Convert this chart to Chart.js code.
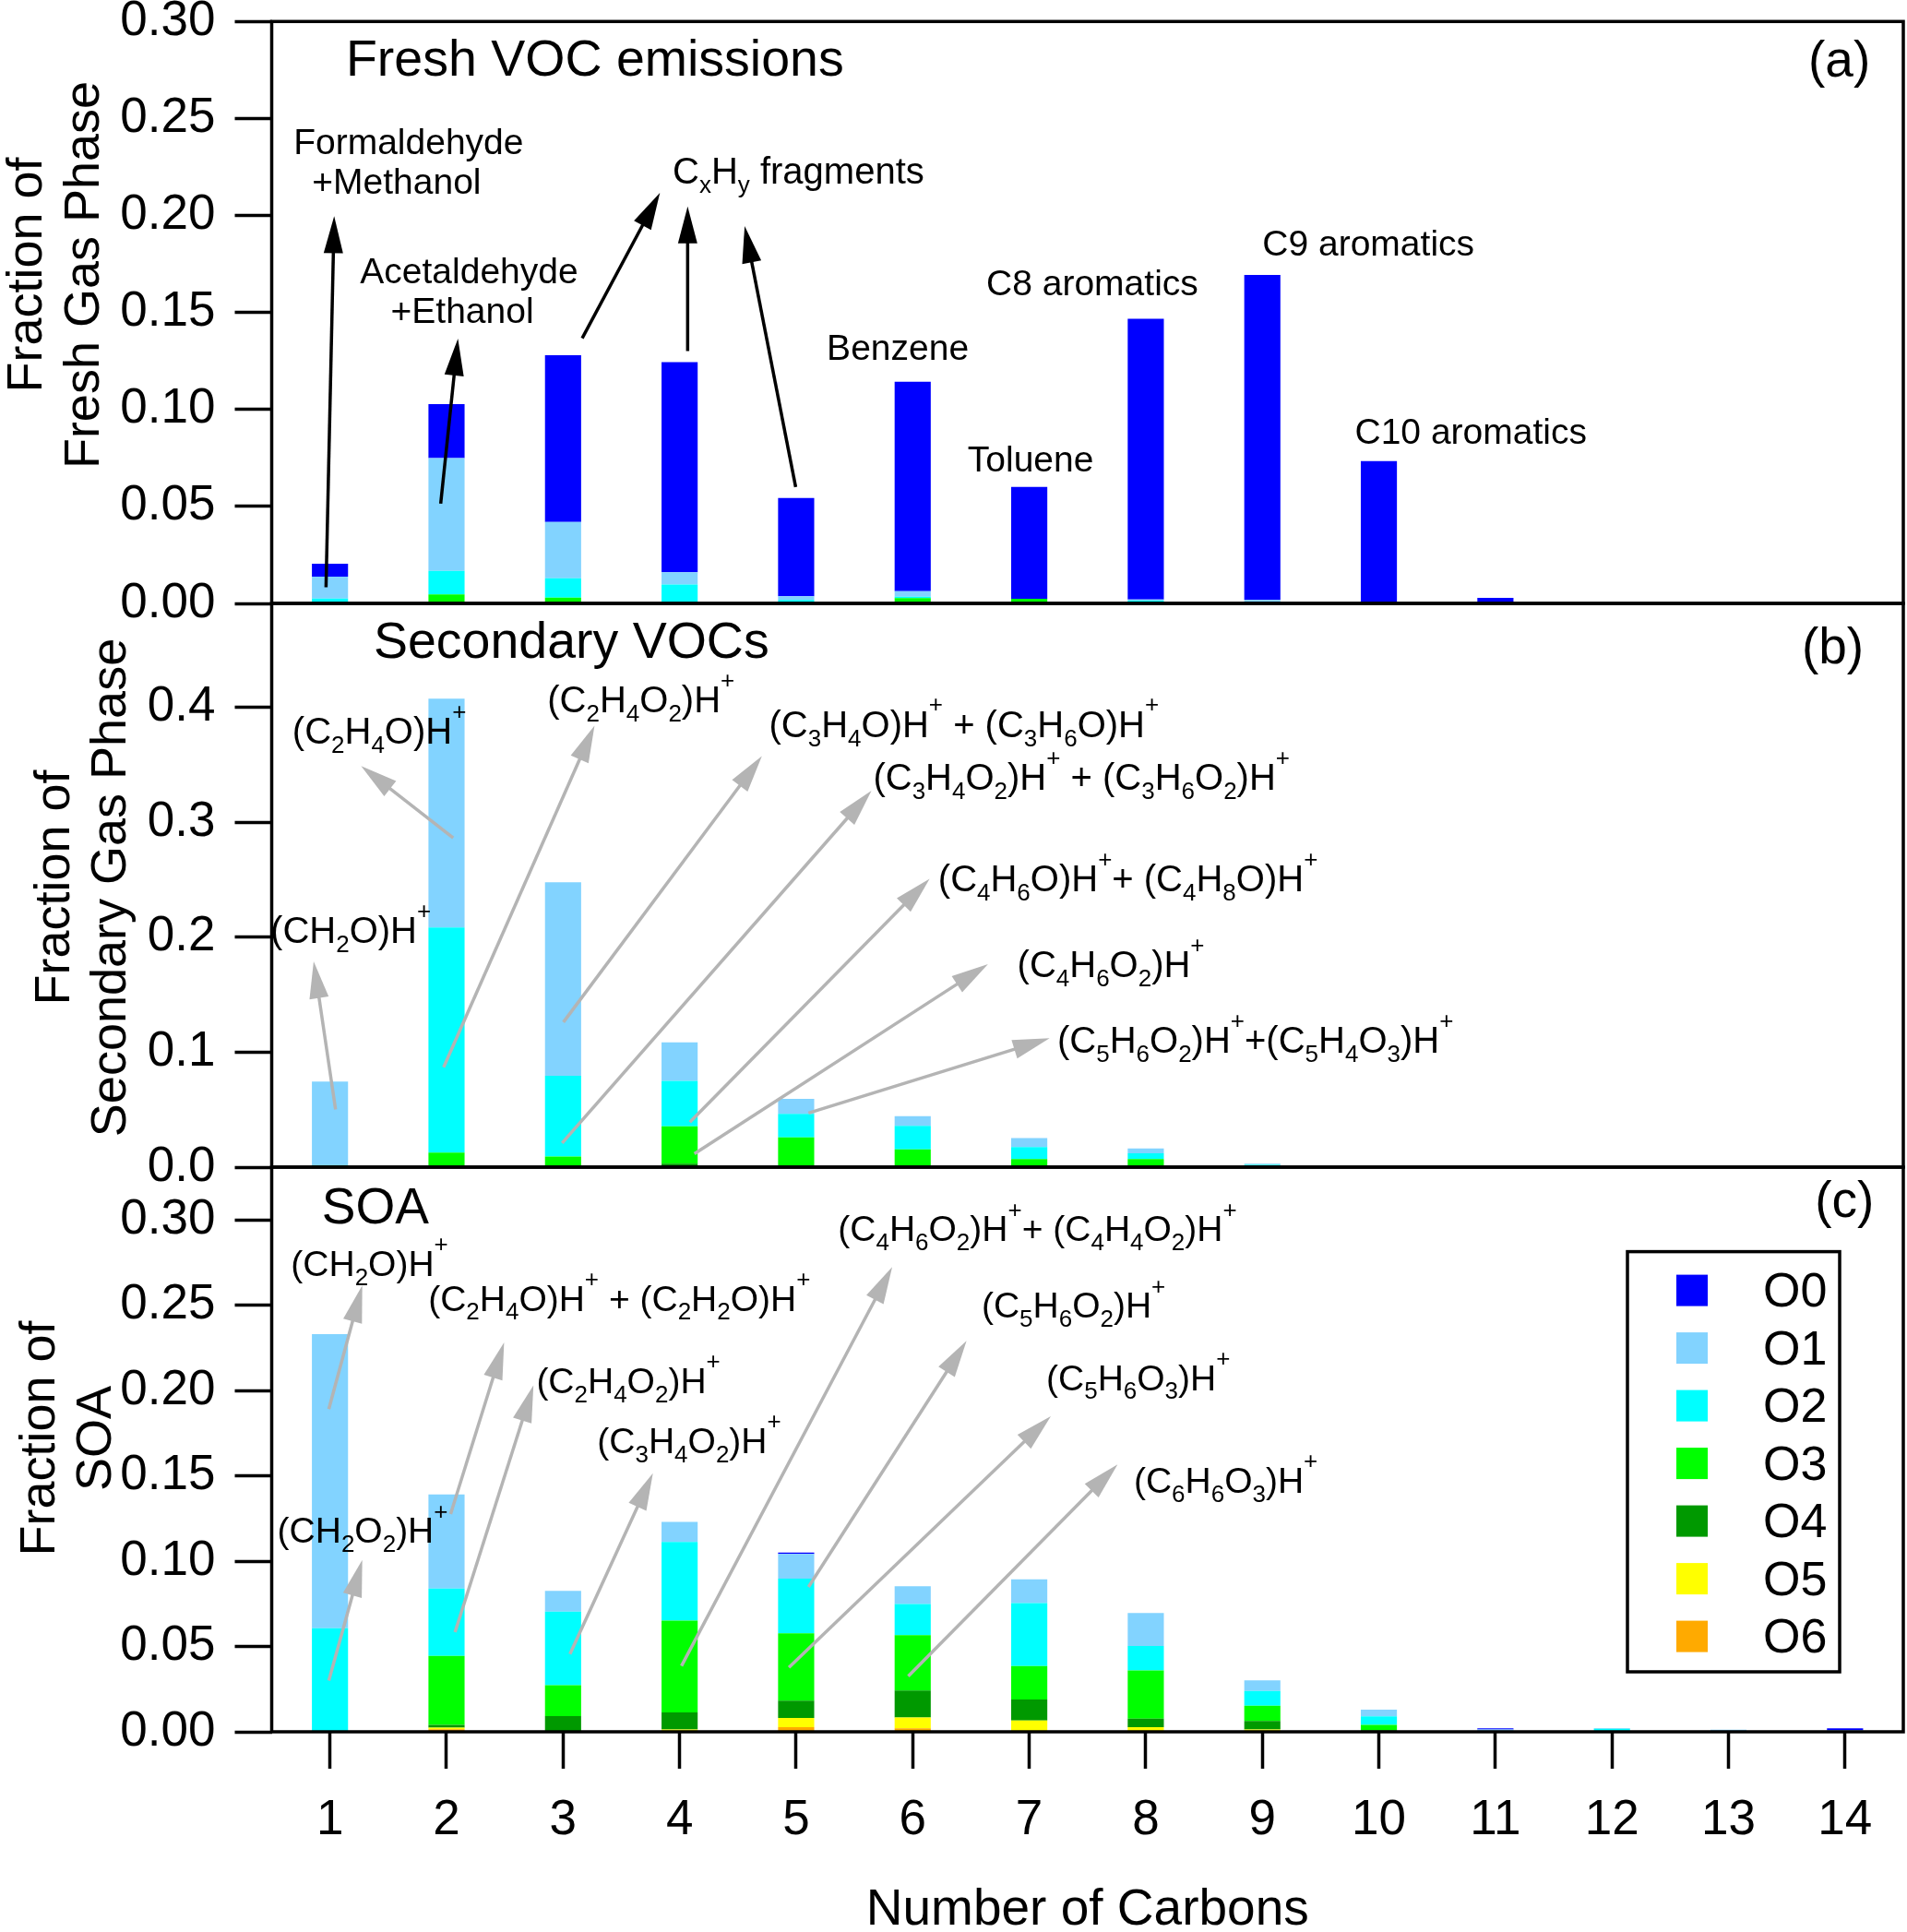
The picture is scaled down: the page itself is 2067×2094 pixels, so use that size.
<!DOCTYPE html>
<html>
<head>
<meta charset="utf-8">
<title>Fraction by number of carbons</title>
<script src="https://cdn.jsdelivr.net/npm/chart.js@4.4.1/dist/chart.umd.min.js"></script>
<style>
  body { margin: 0; background: #fff; }
  #page { position: relative; width: 2067px; height: 2094px; overflow: hidden; background: #fff; }
  #page canvas { position: absolute; left: 0; }
</style>
</head>
<body>
<div id="page">
  <canvas id="fresh_chart" width="2067" height="720" style="top:0px"></canvas>
  <canvas id="secondary_chart" width="2067" height="700" style="top:620px"></canvas>
  <canvas id="soa_chart" width="2067" height="864" style="top:1230px"></canvas>
</div>
<script>
const FONT = '"Liberation Sans", Arial, sans-serif'

const carbons = ["1", "2", "3", "4", "5", "6", "7", "8", "9", "10", "11", "12", "13", "14"]
const seriesNames = ["O0", "O1", "O2", "O3", "O4", "O5", "O6"]
const seriesColors = ["#0000ff", "#82d3ff", "#00ffff", "#00ff00", "#009900", "#ffff00", "#ffaa00"]

// (a) fresh VOC emissions
const freshO0 = [0.0067, 0.0278, 0.0860, 0.1084, 0.0507, 0.1080, 0.0576, 0.1448, 0.1675, 0.0734, 0.0028, 0, 0, 0]
const freshO1 = [0.0113, 0.0581, 0.0290, 0.0062, 0.0019, 0.0028, 0, 0.0006, 0.0010, 0, 0, 0, 0, 0]
const freshO2 = [0.0025, 0.0122, 0.0100, 0.0098, 0.0018, 0.0008, 0, 0.0014, 0.0008, 0, 0, 0, 0, 0]
const freshO3 = [0, 0.0046, 0.0030, 0, 0, 0.0027, 0.0024, 0, 0, 0, 0, 0, 0, 0]
const freshO4 = [0, 0, 0, 0, 0, 0, 0, 0, 0, 0, 0, 0, 0, 0]
const freshO5 = [0, 0, 0, 0, 0, 0, 0, 0, 0, 0, 0, 0, 0, 0]
const freshO6 = [0, 0, 0, 0, 0, 0, 0, 0, 0, 0, 0, 0, 0, 0]
const freshTicks = [0, 0.05, 0.10, 0.15, 0.20, 0.25, 0.30]

// (b) secondary VOCs
const secO0 = [0, 0, 0, 0, 0, 0, 0, 0, 0, 0, 0, 0, 0, 0]
const secO1 = [0.0730, 0.1991, 0.1684, 0.0336, 0.0132, 0.0084, 0.0078, 0.0043, 0.0010, 0, 0, 0, 0, 0]
const secO2 = [0, 0.1959, 0.0701, 0.0394, 0.0205, 0.0205, 0.0104, 0.0050, 0.0020, 0, 0, 0, 0, 0]
const secO3 = [0.0015, 0.0126, 0.0093, 0.0326, 0.0248, 0.0144, 0.0070, 0.0070, 0, 0, 0, 0, 0, 0]
const secO4 = [0, 0, 0, 0.0030, 0.0010, 0.0010, 0, 0, 0, 0, 0, 0, 0, 0]
const secO5 = [0, 0, 0, 0, 0, 0, 0, 0, 0, 0, 0, 0, 0, 0]
const secO6 = [0, 0, 0, 0, 0, 0, 0, 0, 0, 0, 0, 0, 0, 0]
const secTicks = [0, 0.1, 0.2, 0.3, 0.4]

// (c) SOA
const soaO0 = [0, 0, 0, 0, 0.0008, 0, 0, 0, 0, 0, 0.0006, 0, 0, 0.0012]
const soaO1 = [0.1724, 0.0552, 0.0122, 0.0117, 0.0145, 0.0104, 0.0140, 0.0194, 0.0061, 0.0040, 0.0014, 0.0005, 0.0012, 0.0008]
const soaO2 = [0.0607, 0.0395, 0.0431, 0.0461, 0.0320, 0.0183, 0.0368, 0.0144, 0.0087, 0.0050, 0, 0.0012, 0, 0]
const soaO3 = [0, 0.0404, 0.0181, 0.0539, 0.0395, 0.0324, 0.0197, 0.0282, 0.0090, 0.0030, 0, 0.0005, 0, 0]
const soaO4 = [0, 0.0016, 0.0092, 0.0100, 0.0102, 0.0158, 0.0123, 0.0050, 0.0050, 0.0010, 0, 0, 0, 0]
const soaO5 = [0, 0.0010, 0, 0.0013, 0.0054, 0.0064, 0.0066, 0.0027, 0.0013, 0, 0, 0, 0, 0]
const soaO6 = [0, 0.0015, 0, 0, 0.0027, 0.0020, 0, 0, 0, 0, 0, 0, 0, 0]
const soaTicks = [0, 0.05, 0.10, 0.15, 0.20, 0.25, 0.30]


// text with _x subscripts and ^x superscripts
function drawRich(ctx, str, x, y, size, align) {
    const runs = []
    for (let i = 0; i < str.length; i++) {
        let ch = str[i]
        let kind = "n"
        if ((ch === "_" || ch === "^") && i + 1 < str.length) {
            kind = ch === "_" ? "sub" : "sup"
            ch = str[++i]
        }
        const last = runs[runs.length - 1]
        if (last && last.kind === kind) last.text += ch
        else runs.push({kind: kind, text: ch})
    }
    const fontFor = k => (k === "n" ? size : Math.round(size * 0.66)) + "px " + FONT
    let total = 0
    runs.forEach(r => {
        ctx.font = fontFor(r.kind)
        r.w = ctx.measureText(r.text).width
        total += r.w
    })
    let cx = align === "center" ? x - total / 2 : (align === "right" ? x - total : x)
    ctx.textAlign = "left"
    ctx.textBaseline = "alphabetic"
    ctx.fillStyle = "#000"
    runs.forEach(r => {
        ctx.font = fontFor(r.kind)
        const dy = r.kind === "sub" ? size * 0.25 : (r.kind === "sup" ? -size * 0.66 : 0)
        ctx.fillText(r.text, cx, y + dy)
        cx += r.w
    })
}

function drawArrow(ctx, x1, y1, x2, y2, color, lw, hl, hw) {
    const a = Math.atan2(y2 - y1, x2 - x1)
    const bx = x2 - hl * Math.cos(a)
    const by = y2 - hl * Math.sin(a)
    ctx.strokeStyle = color
    ctx.lineWidth = lw
    ctx.beginPath()
    ctx.moveTo(x1, y1)
    ctx.lineTo(bx + 2 * Math.cos(a), by + 2 * Math.sin(a))
    ctx.stroke()
    ctx.fillStyle = color
    ctx.beginPath()
    ctx.moveTo(x2, y2)
    ctx.lineTo(bx + hw * Math.sin(a), by - hw * Math.cos(a))
    ctx.lineTo(bx - hw * Math.sin(a), by + hw * Math.cos(a))
    ctx.closePath()
    ctx.fill()
}

function decor(panel) {
    return {
        id: "decor_" + panel.name,
        afterDraw(chart) {
            const ctx = chart.ctx
            const area = chart.chartArea
            const xs = chart.scales.x
            const ys = chart.scales.y
            const X = c => xs.getPixelForValue(c - 1)
            const Y = v => ys.getPixelForValue(v)
            ctx.save()

            panel.arrows.forEach(a => {
                drawArrow(ctx, X(a[0]), Y(a[1]), X(a[2]), Y(a[3]), panel.arrowColor, 3.5, 40, 10.5)
            })
            panel.labels.forEach(l => {
                drawRich(ctx, l.t, X(l.c), Y(l.v), l.size || panel.labelSize, l.align || "left")
            })

            // frame round the plot
            ctx.strokeStyle = "#000"
            ctx.lineWidth = 3.5
            ctx.strokeRect(area.left, area.top, area.right - area.left, area.bottom - area.top)

            // y title, two rotated lines
            ctx.fillStyle = "#000"
            ctx.font = "54px " + FONT
            ctx.textAlign = "center"
            ctx.textBaseline = "alphabetic"
            panel.yTitle.forEach((line, i) => {
                ctx.save()
                ctx.translate(panel.yTitleX[i], panel.yTitleY)
                ctx.rotate(-Math.PI / 2)
                ctx.fillText(line, 0, 0)
                ctx.restore()
            })

            if (panel.xTitle) {
                ctx.font = "55px " + FONT
                ctx.textAlign = "center"
                ctx.fillText(panel.xTitle, (area.left + area.right) / 2, area.bottom + 209)
            }

            if (panel.legend) {
                const left = area.right - 299
                const top = area.top + 91.6
                ctx.lineWidth = 3.5
                ctx.strokeStyle = "#000"
                ctx.strokeRect(left, top, 230, 455.4)
                ctx.font = "52px " + FONT
                ctx.textAlign = "left"
                seriesNames.forEach((name, i) => {
                    const sy = top + 25 + i * 62.5
                    ctx.fillStyle = seriesColors[i]
                    ctx.fillRect(left + 53, sy, 34, 34)
                    ctx.fillStyle = "#000"
                    ctx.fillText(name, left + 147, sy + 34.5)
                })
            }
            ctx.restore()
        }
    }
}

function create_panel(canvas, panel) {
    const datasets = []
    // first dataset sits at the bottom of the stack, so O6 goes first
    for (let i = panel.series.length - 1; i >= 0; i--) {
        datasets.push({
            label: seriesNames[i],
            data: panel.series[i],
            backgroundColor: seriesColors[i],
            borderWidth: 0,
            barPercentage: 0.31,
            categoryPercentage: 1.0
        })
    }
    const tickFont = {family: FONT, size: 53}
    const config = {
        type: "bar",
        data: {labels: carbons, datasets: datasets},
        options: {
            responsive: false,
            animation: false,
            devicePixelRatio: 1,
            layout: {padding: {top: panel.padTop, bottom: panel.padBottom, left: 0, right: 4}},
            plugins: {legend: {display: false}, tooltip: {enabled: false}},
            scales: {
                x: {
                    stacked: true,
                    offset: true,
                    display: panel.showX,
                    grid: {offset: false, drawOnChartArea: false, tickLength: 40, tickWidth: 3.5, tickColor: "#000"},
                    border: {display: false},
                    ticks: {font: tickFont, color: "#000", padding: 25, maxRotation: 0, autoSkip: false},
                    afterFit: s => {
                        s.height = panel.xHeight
                        s.paddingLeft = 0
                        s.paddingRight = 0
                    }
                },
                y: {
                    stacked: true,
                    min: 0,
                    max: panel.max,
                    grid: {drawOnChartArea: false, tickLength: 40, tickWidth: 3.5, tickColor: "#000"},
                    border: {display: false},
                    ticks: {
                        font: tickFont, color: "#000", padding: 21, autoSkip: false,
                        callback: v => Number(v).toFixed(panel.decimals)
                    },
                    afterBuildTicks: s => { s.ticks = panel.ticks.map(v => ({value: v})) },
                    afterFit: s => {
                        // keep the plot box where the padding puts it
                        s.width = 294.5
                        s.paddingTop = 0
                        s.paddingBottom = 0
                    }
                }
            }
        },
        plugins: [decor(panel)]
    }
    return new Chart(canvas, config)
}

const GREY = "#b4b4b4"

create_panel(document.querySelector("#fresh_chart"), {
    name: "fresh",
    series: [freshO0, freshO1, freshO2, freshO3, freshO4, freshO5, freshO6],
    ticks: freshTicks, max: 0.30, decimals: 2,
    padTop: 23.3, padBottom: 66, showX: false, xHeight: 0,
    yTitle: ["Fraction of", "Fresh Gas Phase"], yTitleX: [45, 107], yTitleY: 298,
    arrowColor: "#000", labelSize: 39,
    labels: [
        {t: "Fresh VOC emissions", c: 1.137, v: 0.2722, size: 55.5},
        {t: "(a)", c: 14.217, v: 0.2716, size: 55, align: "right"},
        {t: "Formaldehyde", c: 1.674, v: 0.2317, align: "center"},
        {t: "+Methanol", c: 1.572, v: 0.2112, align: "center"},
        {t: "Acetaldehyde", c: 2.194, v: 0.1650, align: "center"},
        {t: "+Ethanol", c: 2.135, v: 0.1444, align: "center"},
        {t: "C_xH_y fragments", c: 3.940, v: 0.2165, size: 40},
        {t: "Benzene", c: 5.872, v: 0.1257, align: "center"},
        {t: "Toluene", c: 7.012, v: 0.0681, align: "center"},
        {t: "C8 aromatics", c: 7.541, v: 0.1588, align: "center"},
        {t: "C9 aromatics", c: 9.910, v: 0.1793, align: "center"},
        {t: "C10 aromatics", c: 10.789, v: 0.0822, align: "center"}
    ],
    arrows: [
        [0.966, 0.0083, 1.036, 0.1996],
        [1.950, 0.0514, 2.098, 0.1365],
        [3.164, 0.1367, 3.831, 0.2117],
        [4.069, 0.1301, 4.069, 0.2047],
        [4.996, 0.0600, 4.558, 0.1946]
    ]
})

create_panel(document.querySelector("#secondary_chart"), {
    name: "secondary",
    series: [secO0, secO1, secO2, secO3, secO4, secO5, secO6],
    ticks: secTicks, max: 0.4905, decimals: 1,
    padTop: 34, padBottom: 55, showX: false, xHeight: 0,
    yTitle: ["Fraction of", "Secondary Gas Phase"], yTitleX: [75, 136], yTitleY: 342,
    arrowColor: GREY, labelSize: 40,
    labels: [
        {t: "Secondary VOCs", c: 1.374, v: 0.4429, size: 55.5},
        {t: "(b)", c: 14.161, v: 0.438, size: 55, align: "right"},
        {t: "(C_2H_4O)H^+", c: 0.677, v: 0.3682},
        {t: "(CH_2O)H^+", c: 0.489, v: 0.1949},
        {t: "(C_2H_4O_2)H^+", c: 2.865, v: 0.3955},
        {t: "(C_3H_4O)H^+ + (C_3H_6O)H^+", c: 4.767, v: 0.3744},
        {t: "(C_3H_4O_2)H^+ + (C_3H_6O_2)H^+", c: 5.661, v: 0.3282},
        {t: "(C_4H_6O)H^++ (C_4H_8O)H^+", c: 6.218, v: 0.2398},
        {t: "(C_4H_6O_2)H^+", c: 6.897, v: 0.1654},
        {t: "(C_5H_6O_2)H^++(C_5H_4O_3)H^+", c: 7.241, v: 0.0995}
    ],
    arrows: [
        [1.048, 0.0502, 0.860, 0.1790],
        [2.057, 0.2865, 1.267, 0.3491],
        [1.975, 0.0869, 3.270, 0.3842],
        [3.003, 0.1261, 4.706, 0.3576],
        [2.992, 0.0209, 5.646, 0.3276],
        [4.088, 0.0392, 6.145, 0.2509],
        [4.127, 0.0117, 6.646, 0.1766],
        [5.106, 0.0471, 7.175, 0.1121]
    ]
})

create_panel(document.querySelector("#soa_chart"), {
    name: "soa",
    series: [soaO0, soaO1, soaO2, soaO3, soaO4, soaO5, soaO6],
    ticks: soaTicks, max: 0.331, decimals: 2,
    padTop: 35, padBottom: 0, showX: true, xHeight: 217,
    yTitle: ["Fraction of", "SOA"], yTitleX: [59, 120], yTitleY: 329,
    xTitle: "Number of Carbons", legend: true,
    arrowColor: GREY, labelSize: 39,
    labels: [
        {t: "SOA", c: 0.930, v: 0.2979, size: 55},
        {t: "(c)", c: 14.249, v: 0.3019, size: 55, align: "right"},
        {t: "(CH_2O)H^+", c: 0.665, v: 0.2671},
        {t: "(CH_2O_2)H^+", c: 0.548, v: 0.1107},
        {t: "(C_2H_4O)H^+ + (C_2H_2O)H^+", c: 1.843, v: 0.2468},
        {t: "(C_2H_4O_2)H^+", c: 2.771, v: 0.1984},
        {t: "(C_3H_4O_2)H^+", c: 3.293, v: 0.1634},
        {t: "(C_4H_6O_2)H^++ (C_4H_4O_2)H^+", c: 5.359, v: 0.2875},
        {t: "(C_5H_6O_2)H^+", c: 6.591, v: 0.2427},
        {t: "(C_5H_6O_3)H^+", c: 7.146, v: 0.2003},
        {t: "(C_6H_6O_3)H^+", c: 7.897, v: 0.1400}
    ],
    arrows: [
        [0.990, 0.1892, 1.277, 0.2616],
        [0.990, 0.0300, 1.277, 0.1008],
        [2.035, 0.1276, 2.494, 0.2283],
        [2.073, 0.0584, 2.746, 0.2031],
        [3.059, 0.0456, 3.771, 0.1516],
        [4.016, 0.0386, 5.824, 0.2724],
        [5.106, 0.0849, 6.462, 0.2292],
        [4.938, 0.0377, 7.185, 0.1850],
        [5.962, 0.0326, 7.758, 0.1567]
    ]
})
</script>
</body>
</html>
